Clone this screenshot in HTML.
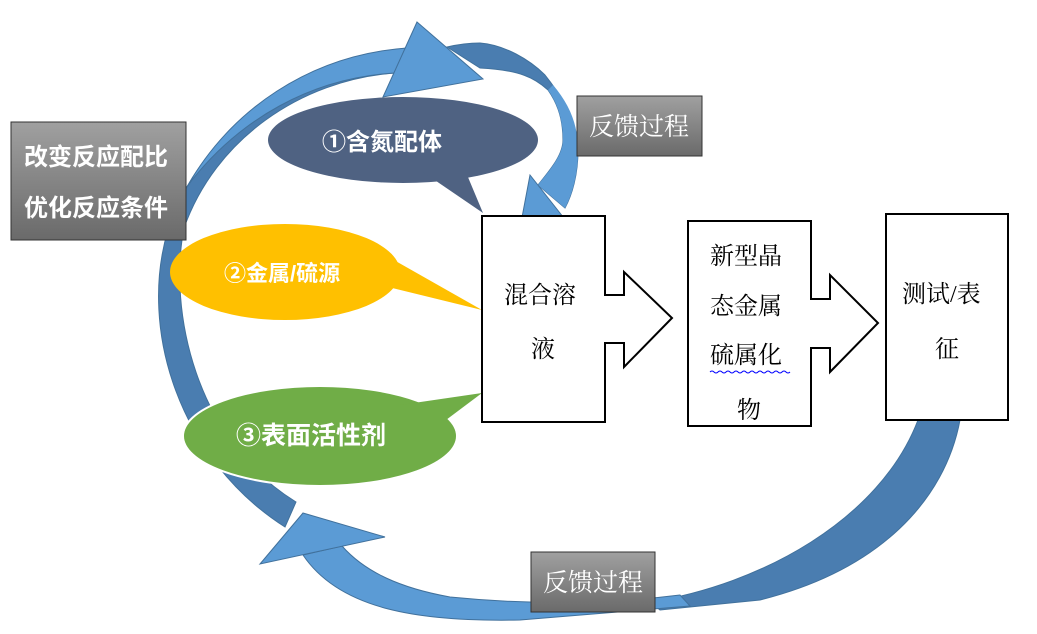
<!DOCTYPE html>
<html><head><meta charset="utf-8"><style>
body{margin:0;background:#fff;width:1037px;height:634px;overflow:hidden}
svg{display:block}
text{font-family:"Liberation Serif","Noto Serif CJK SC","Noto Sans CJK SC",serif}
.b{font-family:"Liberation Sans","Noto Sans CJK SC",sans-serif;font-weight:bold}
</style></head><body>
<svg width="1037" height="634" viewBox="0 0 1037 634" xmlns="http://www.w3.org/2000/svg">
<defs>
<linearGradient id="g" x1="0" y1="0" x2="0" y2="1"><stop offset="0" stop-color="#a0a0a0"/><stop offset="1" stop-color="#6a6a6a"/></linearGradient>
</defs>
<!-- bottom arrow dark (right part) -->
<path d="M918,420 L960,420 C945,500 880,570 760,600 L660,610 L650,602 C760,585 880,520 918,420 Z" fill="#4a7db0" stroke="#41719c"/>
<!-- bottom arrow light -->
<path d="M303,555 C340,610 420,622 520,620 L690,606 L680,595 C600,605 520,604 450,597 C400,588 365,572 342,546 Z" fill="#5b9bd5" stroke="#41719c"/>
<path d="M303,513 L385,537 L260,564 Z" fill="#5b9bd5" stroke="#41719c"/>
<!-- left big arrow -->
<path d="M285,527 C180,460 138,330 168,230 C200,130 300,60 407,48 L395,73 C300,80 215,140 184,228 C168,310 195,440 296,502 Z" fill="#4a7db0" stroke="#41719c"/>
<path d="M187,187 C230,110 310,55 407,48 L395,73 C310,78 240,120 192,180 Z" fill="#5b9bd5" stroke="#41719c"/>
<path d="M417,22 L483,79 L383,97 Z" fill="#5b9bd5" stroke="#41719c"/>
<!-- top right arrow -->
<path d="M447,47 C460,44 470,43 480,43 C505,45 530,60 545,75 C565,100 578,125 578,150 C578,175 572,195 565,208 L538,185 C550,170 563,155 563,140 C563,115 555,100 548,90 C535,78 520,70 480,68 Z" fill="#4a7db0" stroke="#41719c"/>
<path d="M553,85 C570,105 578,125 578,150 C578,175 572,195 565,208 L538,185 C550,170 563,155 563,140 C563,115 555,100 548,90 Z" fill="#5b9bd5"/>
<path d="M530,175 L567,222 L520,228 Z" fill="#5b9bd5" stroke="#41719c"/>
<!-- speech ellipses -->
<ellipse cx="403" cy="140" rx="135" ry="43" fill="#4f6282"/>
<path d="M420,170 L483,213 L465,170 Z" fill="#4f6282"/>
<text class="b" x="322" y="150" font-size="24" fill="#fff">①含氮配体</text>
<ellipse cx="285" cy="272" rx="115" ry="48" fill="#ffc000"/>
<path d="M380,285 L482,310 L385,255 Z" fill="#ffc000"/>
<text class="b" x="224" y="281" font-size="22" fill="#fff">②金属/硫源</text>
<ellipse cx="320" cy="436" rx="137" ry="50" fill="#70ad47" stroke="#fff" stroke-width="2"/>
<path d="M400,405 L482,393 L430,432 Z" fill="#70ad47"/>
<text class="b" x="236" y="444" font-size="25" fill="#fff">③表面活性剂</text>
<!-- gray boxes -->
<rect x="11" y="122" width="175" height="118" fill="url(#g)" stroke="#333"/>
<text class="b" x="24" y="165" font-size="24" fill="#fff">改变反应配比</text>
<text class="b" x="24" y="216" font-size="24" fill="#fff">优化反应条件</text>
<rect x="577" y="96" width="125" height="60" fill="url(#g)" stroke="#333"/>
<text x="589" y="135" font-size="25" fill="#fff">反馈过程</text>
<rect x="531" y="552" width="124" height="60" fill="url(#g)" stroke="#333"/>
<text x="543" y="591" font-size="25" fill="#fff">反馈过程</text>
<!-- process boxes -->
<path d="M482,216 L605,216 L605,295 L624,295 L624,272 L672,318 L624,367 L624,343 L605,343 L605,422 L482,422 Z" fill="#fff" stroke="#000" stroke-width="2"/>
<text x="504" y="303" font-size="24">混合溶</text>
<text x="531" y="357" font-size="24">液</text>
<path d="M688,221 L811,221 L811,299 L830,299 L830,275 L878,323 L830,372 L830,348 L811,348 L811,426 L688,426 Z" fill="#fff" stroke="#000" stroke-width="2"/>
<text x="710" y="264" font-size="24">新型晶</text>
<text x="710" y="314" font-size="24">态金属</text>
<text x="710" y="363" font-size="24">硫属化</text>
<path d="M710,372 q2,-2 4,0 t4,0 t4,0 t4,0 t4,0 t4,0 t4,0 t4,0 t4,0 t4,0 t4,0 t4,0 t4,0 t4,0 t4,0 t4,0 t4,0 t4,0 t4,0 t4,0" fill="none" stroke="#00f" stroke-width="1"/>
<text x="737" y="418" font-size="24">物</text>
<rect x="886" y="214" width="122" height="206" fill="#fff" stroke="#000" stroke-width="2"/>
<text x="902" y="302" font-size="24">测试/表</text>
<text x="935" y="357" font-size="24">征</text>
</svg>
</body></html>
